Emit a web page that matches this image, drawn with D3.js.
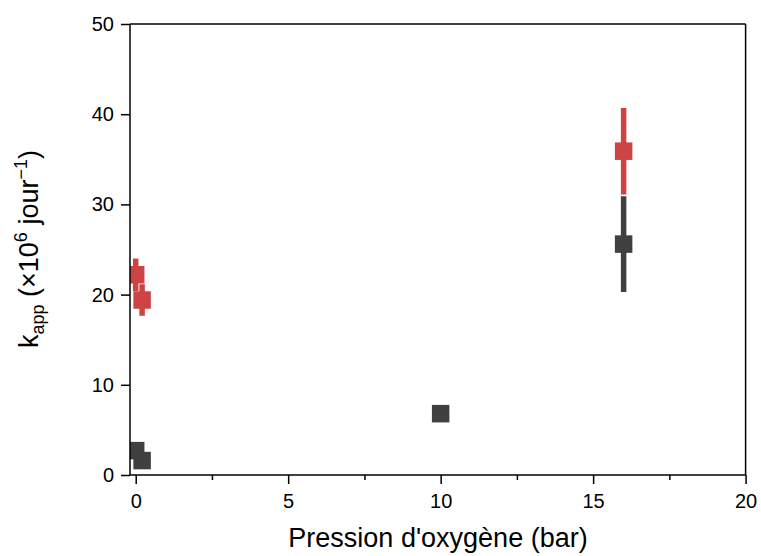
<!DOCTYPE html>
<html>
<head>
<meta charset="utf-8">
<script src="https://cdn.jsdelivr.net/npm/d3@7"></script>
<style>
  html, body { margin: 0; padding: 0; background: #fff; }
  svg { display: block; font-family: "Liberation Sans", Arial, sans-serif; }
</style>
</head>
<body>
<svg id="chart" width="761" height="556"></svg>
<script>
// Data
const blackX = [0, 0.21, 10, 16];
const blackY = [2.7, 1.6, 6.8, 25.6];
const blackErr = [0.4, 0.3, 0.4, 5.3];
const redX = [0, 0.21, 16];
const redY = [22.2, 19.4, 35.9];
const redErr = [1.8, 1.75, 4.8];
const xTicks = [0, 5, 10, 15, 20];
const xMinorTicks = [2.5, 7.5, 12.5, 17.5];
const yTicks = [0, 10, 20, 30, 40, 50];

(function () {
const svg = d3.select("#chart");
const pL = 130, pR = 745.6, pT = 24, pB = 475;

const x = d3.scaleLinear().domain([-0.187, 20]).range([pL, pR]);
const y = d3.scaleLinear().domain([0, 50]).range([pB, pT]);

svg.append("defs").append("clipPath").attr("id", "clip")
  .append("rect").attr("x", pL).attr("y", pT).attr("width", pR - pL).attr("height", pB - pT);

const plot = svg.append("g").attr("clip-path", "url(#clip)");

function drawSeries(xs, ys, es, color) {
  const data = xs.map((d, i) => ({x: d, y: ys[i], e: es[i]}));
  plot.selectAll(null).data(data).enter().append("line")
    .attr("x1", d => x(d.x)).attr("x2", d => x(d.x))
    .attr("y1", d => y(d.y - d.e)).attr("y2", d => y(d.y + d.e))
    .attr("stroke", color).attr("stroke-width", 5.5);
  const s = 17.5;
  plot.selectAll(null).data(data).enter().append("rect")
    .attr("x", d => x(d.x) - s / 2).attr("y", d => y(d.y) - s / 2)
    .attr("width", s).attr("height", s)
    .attr("fill", color);
}
drawSeries(blackX, blackY, blackErr, "#404040");
drawSeries(redX, redY, redErr, "#cc4444");

// Frame
const frame = svg.append("g").attr("fill", "none").attr("stroke", "#000").attr("stroke-width", 1.5);
frame.append("line").attr("x1", pL).attr("x2", pR).attr("y1", pT).attr("y2", pT);
frame.append("line").attr("x1", pR).attr("x2", pR).attr("y1", pT).attr("y2", pB);

// X axis
const xAxis = svg.append("g").attr("transform", `translate(0,${pB})`)
  .call(d3.axisBottom(x).tickValues(xTicks).tickSize(9).tickPadding(10).tickFormat(d3.format("d")));
svg.append("g").attr("transform", `translate(0,${pB})`)
  .call(d3.axisBottom(x).tickValues(xMinorTicks).tickSize(5).tickFormat(""))
  .call(g => g.select(".domain").remove());
// Y axis
const yAxis = svg.append("g").attr("transform", `translate(${pL},0)`)
  .call(d3.axisLeft(y).tickValues(yTicks).tickSize(9).tickPadding(7).tickFormat(d3.format("d")));

svg.selectAll(".domain").attr("stroke-width", 1.5).attr("stroke", "#000");
svg.selectAll(".tick line").attr("stroke-width", 1.5).attr("stroke", "#000");
svg.selectAll(".tick text").attr("font-size", 20).attr("font-family", "Liberation Sans, Arial, sans-serif").attr("fill", "#000");
xAxis.select(".domain").attr("d", `M${pL},0H${pR}`);
yAxis.select(".domain").attr("d", `M0,${pB}V${pT}`);

// X title
svg.append("text").attr("x", 438).attr("y", 547).attr("text-anchor", "middle")
  .attr("font-size", 27).attr("fill", "#000").text("Pression d'oxygène (bar)");

// Y title
const yt = svg.append("text").attr("transform", "translate(38,249) rotate(-90)")
  .attr("text-anchor", "middle").attr("font-size", 27).attr("fill", "#000");
yt.append("tspan").text("k");
yt.append("tspan").attr("font-size", 18).attr("dy", 6).text("app");
yt.append("tspan").attr("dy", -6).text(" (×10");
yt.append("tspan").attr("font-size", 18).attr("dy", -11).text("6");
yt.append("tspan").attr("dy", 11).text(" jour");
yt.append("tspan").attr("font-size", 18).attr("dy", -11).text("−1");
yt.append("tspan").attr("dy", 11).text(")");
})();
</script>
</body>
</html>
